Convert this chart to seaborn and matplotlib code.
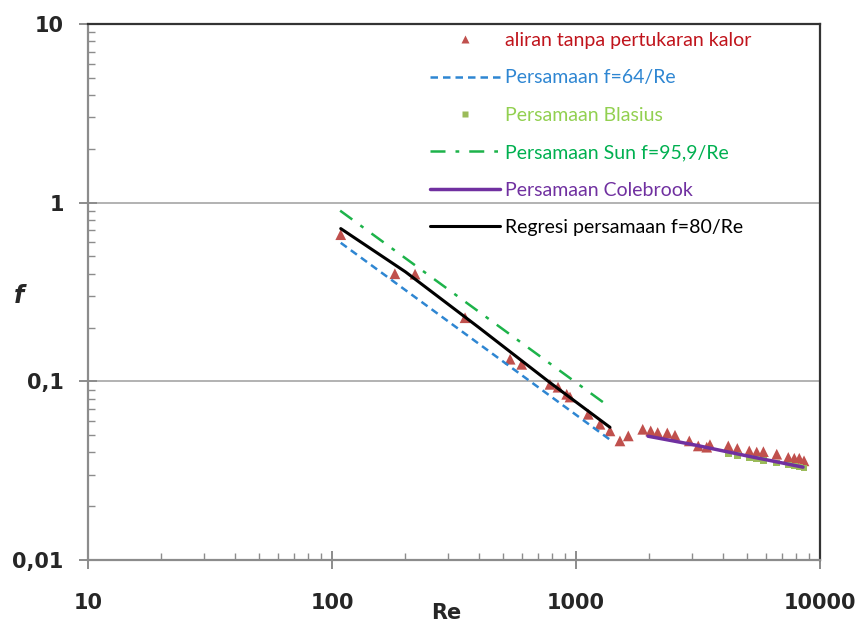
import matplotlib
matplotlib.use("Agg")
import matplotlib.pyplot as plt
import seaborn as sns
import pandas as pd
from matplotlib.lines import Line2D
from matplotlib.ticker import LogLocator, FixedLocator, NullFormatter

# ---- data ----
re_exp = [108.6, 181, 219, 351, 537, 599, 782, 844, 916, 945, 1123, 1254, 1378,
          1514, 1638, 1877, 2024, 2162, 2367, 2545, 2913, 3170, 3434, 3540, 4209,
          4583, 5130, 5504, 5862, 6649, 7414, 7846, 8225, 8600]
f_exp = [0.662, 0.400, 0.398, 0.227, 0.133, 0.1245, 0.0962, 0.0927, 0.0846, 0.0817,
         0.0654, 0.0575, 0.0528, 0.0464, 0.0495, 0.0539, 0.0528, 0.0517, 0.0514,
         0.0499, 0.0464, 0.0435, 0.0428, 0.0442, 0.0435, 0.0421, 0.0408, 0.0402,
         0.0404, 0.0391, 0.0375, 0.0371, 0.0371, 0.0359]

re_64 = [108.6, 1400]
f_64 = [0.596, 0.0464]

re_bl = [4209, 4583, 5130, 5504, 5862, 6649, 7414, 7846, 8225, 8600]
f_bl = [0.0392, 0.0384, 0.0373, 0.0367, 0.0361, 0.0350, 0.0341, 0.0336, 0.0332, 0.0328]

re_sun = [108, 1378]
f_sun = [0.902, 0.0716]

re_cb = [1973, 3000, 5000, 8517]
f_cb = [0.0493, 0.0443, 0.0383, 0.0331]

re_reg = [108.6, 200, 400, 782, 1378]
f_reg = [0.716, 0.41, 0.200, 0.0984, 0.0553]

labels = ["aliran tanpa pertukaran kalor", "Persamaan f=64/Re", "Persamaan Blasius",
          "Persamaan Sun f=95,9/Re", "Persamaan Colebrook", "Regresi persamaan f=80/Re"]
x_ticks = [10, 100, 1000, 10000]
x_ticklabels = ["10", "100", "1000", "10000"]
y_ticks = [0.01, 0.1, 1, 10]
y_ticklabels = ["0,01", "0,1", "1", "10"]

# ---- styling ----
c_exp = "#C0504D"
c_64 = "#2E86D2"
c_bl = "#9BBB59"
c_sun = "#1DB34A"
c_cb = "#7030A0"
c_reg = "#000000"
text_colors = ["#C0141C", "#2E86D2", "#92D050", "#00B050", "#7030A0", "#000000"]

sns.set_style("white")
plt.rcParams["font.family"] = ["DejaVu Sans"]

fig = plt.figure(figsize=(8.56, 6.26), dpi=100)
ax = fig.add_axes([88 / 856, 1 - 560 / 626, 732 / 856, 536 / 626])

ax.set_xscale("log")
ax.set_yscale("log")
ax.set_xlim(10, 10000)
ax.set_ylim(0.01, 10)

# horizontal gridlines
for yv in [0.1, 1]:
    ax.axhline(yv, color="#A6A6A6", lw=1.2, zorder=0)

sns.scatterplot(x=re_exp, y=f_exp, marker="^", s=60, color=c_exp, edgecolor="none",
                ax=ax, zorder=3)
sns.lineplot(x=re_64, y=f_64, ax=ax, color=c_64, lw=1.8, zorder=4)
ax.lines[-1].set_dashes([3, 2])
sns.scatterplot(x=re_bl, y=f_bl, marker="s", s=22, color=c_bl, edgecolor="none",
                ax=ax, zorder=4)
sns.lineplot(x=re_sun, y=f_sun, ax=ax, color=c_sun, lw=1.8, zorder=4)
ax.lines[-1].set_dashes([6, 4, 1.5, 4])
sns.lineplot(x=re_cb, y=f_cb, ax=ax, color=c_cb, lw=2.5, zorder=5)
sns.lineplot(x=re_reg, y=f_reg, ax=ax, color=c_reg, lw=2.2, zorder=6)

# spines
for s in ["left", "bottom"]:
    ax.spines[s].set_color("#8C8C8C")
    ax.spines[s].set_linewidth(1.6)
for s in ["top", "right"]:
    ax.spines[s].set_color("#333333")
    ax.spines[s].set_linewidth(1.6)

# ticks
ax.xaxis.set_major_locator(FixedLocator(x_ticks))
ax.yaxis.set_major_locator(FixedLocator(y_ticks))
ax.xaxis.set_minor_locator(LogLocator(base=10, subs=range(2, 10)))
ax.yaxis.set_minor_locator(LogLocator(base=10, subs=range(2, 10)))
ax.xaxis.set_minor_formatter(NullFormatter())
ax.yaxis.set_minor_formatter(NullFormatter())
ax.set_xticklabels(x_ticklabels, fontsize=15, fontweight="bold")
ax.set_yticklabels(y_ticklabels, fontsize=15, fontweight="bold")
ax.tick_params(axis="both", which="major", direction="inout", length=13, width=1.4,
               color="#8C8C8C", bottom=True, left=True, top=False, right=False)
ax.tick_params(axis="both", which="minor", direction="in", length=5, width=1.0,
               color="#8C8C8C", bottom=True, left=True, top=False, right=False)
ax.tick_params(axis="x", which="major", pad=17)
ax.tick_params(axis="y", which="major", pad=11)

ax.set_xlabel("Re", fontsize=15, fontweight="bold")
ax.xaxis.set_label_coords(0.490, -0.080)
ax.set_ylabel("f", fontsize=17, fontweight="bold", style="italic", rotation=0,
              va="center", ha="center")
ax.yaxis.set_label_coords(-0.094, 0.4925)

handles = [
    Line2D([], [], ls="none", marker="^", ms=6, color=c_exp, mec="none"),
    Line2D([], [], color=c_64, lw=1.8, dashes=[3, 2]),
    Line2D([], [], ls="none", marker="s", ms=4.5, color=c_bl, mec="none"),
    Line2D([], [], color=c_sun, lw=1.8, dashes=[6, 4, 1.5, 4]),
    Line2D([], [], color=c_cb, lw=2.5),
    Line2D([], [], color=c_reg, lw=2.2),
]
leg = ax.legend(handles, labels, loc="upper left",
                bbox_to_anchor=(430 / 856, 1 - 32 / 626), bbox_transform=fig.transFigure,
                frameon=False, prop={"family": "Lato", "size": 14},
                handlelength=3.6, handletextpad=0.25, labelspacing=1.05,
                borderaxespad=0, borderpad=0)
for t, c in zip(leg.get_texts(), text_colors):
    t.set_color(c)

fig.savefig("out.png", dpi=100)
